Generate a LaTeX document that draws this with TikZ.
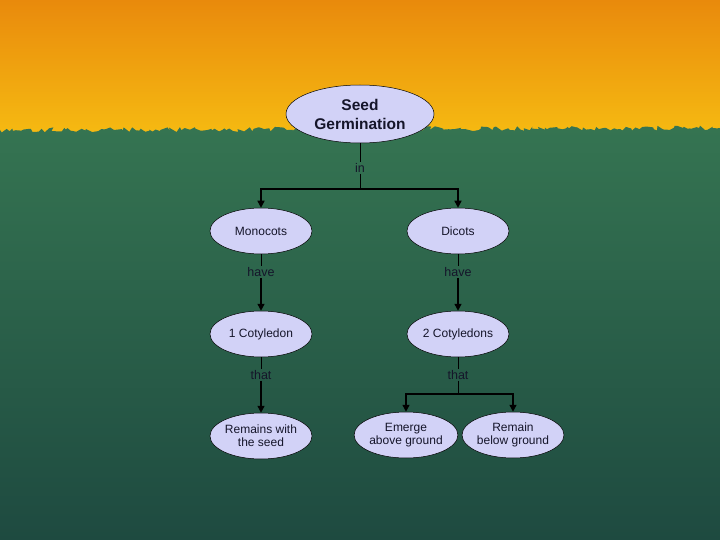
\documentclass[tikz,border=0pt]{standalone}
\usepackage{fontspec}
\setmainfont{Liberation Sans}
\usetikzlibrary{positioning,arrows.meta,shapes.geometric,decorations.pathmorphing}
\definecolor{sky}{HTML}{E98A0C}
\definecolor{sun}{HTML}{F6BC12}
\definecolor{leaf}{HTML}{3C8157}
\definecolor{deep}{HTML}{1E4A40}
\definecolor{bubble}{HTML}{D2D2F7}
\definecolor{ink}{HTML}{15152A}

\begin{document}
\begin{tikzpicture}[x=1pt,y=-1pt,
  idea/.style={ellipse,draw=black,line width=0.5pt,fill=bubble,text=ink,inner sep=0pt,
    minimum width=102pt,minimum height=46pt,align=center,font=\fontsize{12}{13}\selectfont},
  link/.style={text=ink,inner sep=1pt,font=\fontsize{12.5}{13}\selectfont},
  thin/.style={line width=0.6pt,color=black},
  ar/.style={-{Triangle[length=7pt,width=7pt]},line width=1.4pt,color=black}]
\useasboundingbox (0,0) rectangle (720,540);
% background
\shade[top color=sky,bottom color=sun] (0,0) rectangle (720,140);
\shade[top color=leaf,bottom color=deep]
  decorate[decoration={random steps,segment length=3pt,amplitude=2.5pt}]{(0,130) -- (720,128)}
  -- (720,540) -- (0,540) -- cycle;
% concepts
\node[idea,minimum width=148pt,minimum height=58pt,font=\bfseries\fontsize{15.5}{19}\selectfont] (seed) at (360,114) {Seed\\Germination};
\node[idea] (mono) at (261,231) {Monocots};
\node[idea] (dico) at (458,231) {Dicots};
\node[idea] (one) at (261,334) {1 Cotyledon};
\node[idea] (two) at (458,334) {2 Cotyledons};
\node[idea] (with) at (261,436) {Remains with\\the seed};
\node[idea] (above) at (406,435) {Emerge\\above ground};
\node[idea,minimum width=100pt] (below) at (513,435) {Remain\\below ground};
% linking words
\node[link] (in) at (360,168) {in};
\node[link] (have1) at (261,272) {have};
\node[link] (have2) at (458,272) {have};
\node[link] (that1) at (261,375) {that};
\node[link] (that2) at (458,375) {that};
\coordinate (j1) at (360,189);
\coordinate (j2) at (458,394);
% connectors
\draw[thin] (seed) -- (in) -- (j1);
\draw[ar] (j1) -| (mono);
\draw[ar] (j1) -| (dico);
\draw[thin] (mono) -- (have1);
\draw[ar] (have1) -- (one);
\draw[thin] (dico) -- (have2);
\draw[ar] (have2) -- (two);
\draw[thin] (one) -- (that1);
\draw[ar] (that1) -- (with);
\draw[thin] (two) -- (that2) -- (j2);
\draw[ar] (j2) -| (above);
\draw[ar] (j2) -| (below);
\end{tikzpicture}
\end{document}
